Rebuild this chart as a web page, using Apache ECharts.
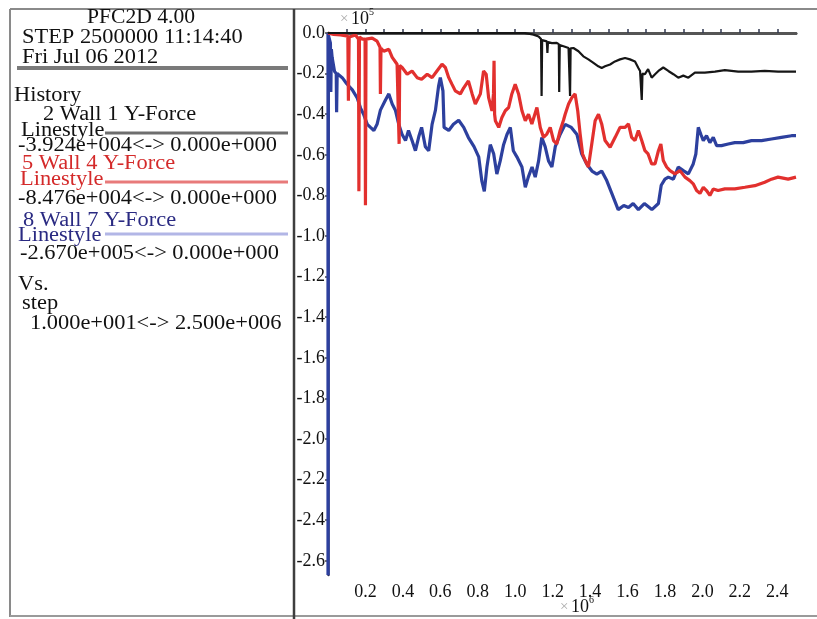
<!DOCTYPE html>
<html>
<head>
<meta charset="utf-8">
<script src="https://cdn.jsdelivr.net/npm/echarts@6/dist/echarts.min.js"></script>
<style>
  html, body { margin: 0; padding: 0; background: #fff; }
  #chart { width: 817px; height: 619px; }
</style>
</head>
<body>
<div id="chart"></div>
<script>
// step in units of 1e6, force in units of 1e5
const xLabelValues = [0.2, 0.4, 0.6, 0.8, 1.0, 1.2, 1.4, 1.6, 1.8, 2.0, 2.2, 2.4];
const xTickValues = [0.1, 0.2, 0.3, 0.4, 0.5, 0.6, 0.7, 0.8, 0.9, 1.0, 1.1, 1.2, 1.3,
  1.4, 1.5, 1.6, 1.7, 1.8, 1.9, 2.0, 2.1, 2.2, 2.3, 2.4];
const yLabelValues = [0, -0.2, -0.4, -0.6, -0.8, -1.0, -1.2, -1.4, -1.6, -1.8, -2.0,
  -2.2, -2.4, -2.6];

// 2 Wall 1 Y-Force
const wall1 = [[0,0],[1.05,0],[1.098,-0.008],[1.125,-0.017],[1.138,-0.03],[1.141,-0.31],
  [1.144,-0.035],[1.169,-0.041],[1.172,-0.098],[1.175,-0.045],[1.196,-0.05],[1.222,-0.049],
  [1.233,-0.055],[1.235,-0.29],[1.238,-0.06],[1.258,-0.065],[1.285,-0.074],[1.291,-0.075],
  [1.293,-0.31],[1.296,-0.076],[1.311,-0.074],[1.338,-0.09],[1.364,-0.115],[1.391,-0.13],
  [1.418,-0.147],[1.444,-0.164],[1.462,-0.172],[1.48,-0.164],[1.507,-0.155],[1.533,-0.14],
  [1.56,-0.13],[1.587,-0.123],[1.613,-0.13],[1.64,-0.14],[1.658,-0.172],[1.667,-0.187],
  [1.672,-0.19],[1.676,-0.33],[1.68,-0.2],[1.693,-0.203],[1.71,-0.178],[1.729,-0.22],
  [1.747,-0.203],[1.765,-0.187],[1.791,-0.17],[1.818,-0.187],[1.845,-0.203],[1.871,-0.22],
  [1.898,-0.21],[1.925,-0.22],[1.96,-0.195],[2.013,-0.195],[2.067,-0.19],[2.12,-0.183],
  [2.191,-0.19],[2.262,-0.19],[2.333,-0.187],[2.404,-0.19],[2.476,-0.19],[2.5,-0.19]];

// 5 Wall 4 Y-Force
const wall4 = [[0,0],[0.03,-0.007],[0.067,-0.01],[0.106,-0.015],[0.109,-0.334],[0.113,-0.02],
  [0.147,-0.01],[0.163,-0.03],[0.165,-0.78],[0.168,-0.02],[0.185,-0.03],[0.198,-0.03],
  [0.2,-0.848],[0.203,-0.03],[0.209,-0.03],[0.236,-0.025],[0.262,-0.04],[0.278,-0.07],
  [0.28,-0.30],[0.283,-0.075],[0.298,-0.09],[0.325,-0.08],[0.343,-0.12],[0.369,-0.154],
  [0.378,-0.16],[0.38,-0.546],[0.383,-0.16],[0.396,-0.17],[0.423,-0.203],[0.449,-0.187],
  [0.476,-0.22],[0.50,-0.228],[0.53,-0.203],[0.556,-0.22],[0.582,-0.187],[0.609,-0.154],
  [0.627,-0.17],[0.645,-0.22],[0.662,-0.252],[0.68,-0.285],[0.707,-0.30],[0.725,-0.27],
  [0.75,-0.236],[0.77,-0.30],[0.787,-0.35],[0.814,-0.30],[0.831,-0.187],[0.845,-0.203],
  [0.858,-0.318],[0.876,-0.383],[0.884,-0.30],[0.887,-0.137],[0.89,-0.40],[0.894,-0.432],
  [0.912,-0.465],[0.929,-0.416],[0.947,-0.383],[0.965,-0.367],[0.982,-0.30],[1.0,-0.252],
  [1.018,-0.30],[1.036,-0.383],[1.054,-0.432],[1.071,-0.40],[1.089,-0.448],[1.116,-0.367],
  [1.134,-0.465],[1.151,-0.514],[1.169,-0.498],[1.187,-0.465],[1.205,-0.53],[1.222,-0.547],
  [1.24,-0.48],[1.258,-0.43],[1.267,-0.40],[1.285,-0.35],[1.303,-0.318],[1.32,-0.30],
  [1.334,-0.383],[1.347,-0.498],[1.36,-0.596],[1.374,-0.628],[1.391,-0.66],[1.409,-0.547],
  [1.427,-0.432],[1.445,-0.40],[1.462,-0.448],[1.48,-0.53],[1.507,-0.563],[1.534,-0.514],
  [1.56,-0.465],[1.587,-0.465],[1.605,-0.448],[1.622,-0.514],[1.64,-0.53],[1.658,-0.48],
  [1.676,-0.53],[1.693,-0.58],[1.71,-0.596],[1.729,-0.645],[1.747,-0.645],[1.765,-0.58],
  [1.778,-0.547],[1.791,-0.628],[1.809,-0.66],[1.827,-0.678],[1.853,-0.694],[1.88,-0.678],
  [1.907,-0.71],[1.933,-0.727],[1.951,-0.743],[1.969,-0.776],[1.987,-0.79],[2.005,-0.76],
  [2.022,-0.776],[2.04,-0.80],[2.058,-0.768],[2.084,-0.776],[2.12,-0.768],[2.173,-0.768],
  [2.227,-0.76],[2.28,-0.752],[2.333,-0.735],[2.369,-0.72],[2.404,-0.71],[2.458,-0.72],
  [2.5,-0.71]];

// 8 Wall 7 Y-Force
const wall7 = [[0,0],[0.00001,-2.67],[0.002,-0.01],[0.013,-0.05],[0.015,-0.29],[0.018,-0.08],
  [0.022,-0.12],[0.035,-0.19],[0.044,-0.20],[0.046,-0.39],[0.049,-0.20],[0.053,-0.20],
  [0.076,-0.22],[0.10,-0.25],[0.13,-0.28],[0.156,-0.32],[0.174,-0.37],[0.19,-0.40],
  [0.21,-0.45],[0.227,-0.465],[0.245,-0.48],[0.262,-0.45],[0.28,-0.38],[0.307,-0.33],
  [0.325,-0.30],[0.343,-0.35],[0.36,-0.38],[0.378,-0.45],[0.396,-0.50],[0.414,-0.53],
  [0.43,-0.48],[0.449,-0.53],[0.467,-0.58],[0.485,-0.51],[0.50,-0.465],[0.52,-0.56],
  [0.538,-0.58],[0.556,-0.45],[0.574,-0.38],[0.591,-0.26],[0.60,-0.22],[0.614,-0.285],
  [0.62,-0.465],[0.645,-0.48],[0.67,-0.45],[0.698,-0.43],[0.725,-0.465],[0.75,-0.515],
  [0.78,-0.56],[0.805,-0.61],[0.822,-0.73],[0.835,-0.78],[0.849,-0.66],[0.867,-0.55],
  [0.885,-0.595],[0.902,-0.695],[0.92,-0.63],[0.938,-0.55],[0.956,-0.50],[0.974,-0.465],
  [0.99,-0.58],[1.009,-0.61],[1.036,-0.66],[1.054,-0.76],[1.07,-0.71],[1.09,-0.66],
  [1.107,-0.71],[1.125,-0.63],[1.142,-0.515],[1.16,-0.56],[1.178,-0.63],[1.196,-0.66],
  [1.214,-0.56],[1.24,-0.50],[1.267,-0.45],[1.30,-0.465],[1.33,-0.50],[1.355,-0.595],
  [1.382,-0.645],[1.41,-0.68],[1.436,-0.695],[1.462,-0.68],[1.489,-0.727],[1.516,-0.79],
  [1.55,-0.87],[1.58,-0.85],[1.605,-0.86],[1.63,-0.84],[1.658,-0.87],[1.69,-0.84],
  [1.73,-0.87],[1.765,-0.84],[1.78,-0.75],[1.80,-0.72],[1.818,-0.71],[1.845,-0.72],
  [1.871,-0.66],[1.898,-0.678],[1.925,-0.694],[1.951,-0.645],[1.965,-0.596],[1.978,-0.465],
  [1.992,-0.50],[2.005,-0.53],[2.022,-0.506],[2.04,-0.54],[2.058,-0.514],[2.076,-0.555],
  [2.102,-0.555],[2.138,-0.547],[2.173,-0.54],[2.218,-0.54],[2.262,-0.53],[2.316,-0.53],
  [2.369,-0.522],[2.422,-0.514],[2.476,-0.506],[2.5,-0.506]];

const serif = '"Liberation Serif", "DejaVu Serif", serif';
const navy = '#2a2a82';
const red = '#d42a2a';

// left panel text lines: [x, y, text, color, align]
const panelLines = [
  [141, 18, 'PFC2D 4.00', '#111', 'center'],
  [22, 38, 'STEP 2500000 11:14:40', '#111', 'left'],
  [22, 58, 'Fri Jul 06 2012', '#111', 'left'],
  [14, 96, 'History', '#111', 'left'],
  [43, 115, '2 Wall 1 Y-Force', '#111', 'left'],
  [21, 131, 'Linestyle', '#111', 'left'],
  [18, 146, '-3.924e+004<-> 0.000e+000', '#111', 'left'],
  [22, 164, '5 Wall 4 Y-Force', red, 'left'],
  [20, 180, 'Linestyle', red, 'left'],
  [18, 199, '-8.476e+004<-> 0.000e+000', '#111', 'left'],
  [23, 221, '8 Wall 7 Y-Force', navy, 'left'],
  [18, 236, 'Linestyle', navy, 'left'],
  [20, 254, '-2.670e+005<-> 0.000e+000', '#111', 'left'],
  [18, 285, 'Vs.', '#111', 'left'],
  [22, 304, 'step', '#111', 'left'],
  [30, 324, '1.000e+001<-> 2.500e+006', '#111', 'left']
];

function line(x1, y1, x2, y2, color, width) {
  return { type: 'line', shape: { x1: x1, y1: y1, x2: x2, y2: y2 },
    style: { stroke: color, lineWidth: width }, z: 10 };
}
function txt(x, y, text, color, align, size, sx) {
  return { type: 'text', x: x, y: y, scaleX: sx || 1, z: 11,
    style: { text: text, fill: color, font: size + 'px ' + serif,
      textAlign: align, textVerticalAlign: 'middle' } };
}

let graphics = [
  line(10, 9, 817, 9, '#8a8a8a', 2),
  line(10, 9, 10, 617, '#8a8a8a', 2),
  line(10, 616, 817, 616, '#9a9a9a', 2),
  line(294, 9, 294, 619, '#3e3e3e', 2.5),
  line(17, 68, 288, 68, '#7a7a7a', 4),
  line(105, 133, 288, 133, '#6e6e6e', 3),
  line(105, 182, 288, 182, '#e87a7a', 3),
  line(105, 234, 288, 234, '#b2b6e6', 3),
  txt(340, 19, '×', '#aaaaaa', 'left', 15),
  txt(351, 19, '10', '#111', 'left', 18),
  txt(369, 12, '5', '#111', 'left', 10),
  txt(560, 607, '×', '#aaaaaa', 'left', 15),
  txt(571, 607, '10', '#111', 'left', 18),
  txt(589, 600, '6', '#111', 'left', 10)
];
panelLines.forEach(function (p) {
  graphics.push(txt(p[0], p[1], p[2], p[3], p[4], 20, p[4] === 'left' ? 1.12 : 1.08));
});

const chart = echarts.init(document.getElementById('chart'));
chart.setOption({
  backgroundColor: '#fff',
  animation: false,
  grid: { left: 328, top: 33, right: 21, bottom: 44 },
  xAxis: [{
    type: 'value', min: 0, max: 2.5, position: 'bottom',
    splitLine: { show: false },
    axisLine: { show: true, lineStyle: { color: '#333a52', width: 2.5 } },
    axisTick: { show: true, inside: true, length: 4, customValues: xTickValues,
      lineStyle: { color: '#333a52', width: 1.5 } },
    axisLabel: { customValues: xLabelValues, margin: 8, color: '#111',
      fontFamily: serif, fontSize: 18, formatter: function (v) { return v.toFixed(1); } }
  }, {
    type: 'value', min: 0, max: 2.5, position: 'top',
    splitLine: { show: false },
    axisLine: { show: true, lineStyle: { color: '#555', width: 3 } },
    axisTick: { show: false }, axisLabel: { show: false }
  }],
  yAxis: {
    type: 'value', min: -2.67, max: 0,
    splitLine: { show: false },
    axisLine: { show: true, lineStyle: { color: '#2c3060', width: 2.5 } },
    axisTick: { show: true, length: 3, customValues: yLabelValues,
      lineStyle: { color: '#444', width: 1.5 } },
    axisLabel: { customValues: yLabelValues, margin: 3, color: '#111',
      fontFamily: serif, fontSize: 18,
      formatter: function (v) { return Math.abs(v) < 1e-9 ? '0.0' : v.toFixed(1); } }
  },
  series: [
    { name: '2 Wall 1 Y-Force', type: 'line', data: wall1, showSymbol: false,
      lineStyle: { color: '#161616', width: 2.2 }, z: 4 },
    { name: '5 Wall 4 Y-Force', type: 'line', data: wall4, showSymbol: false,
      lineStyle: { color: '#e2302e', width: 3.2 }, z: 3 },
    { name: '8 Wall 7 Y-Force', type: 'line', data: wall7, showSymbol: false,
      lineStyle: { color: '#2d409e', width: 3.2 }, z: 2 }
  ],
  graphic: graphics
});
</script>
</body>
</html>
